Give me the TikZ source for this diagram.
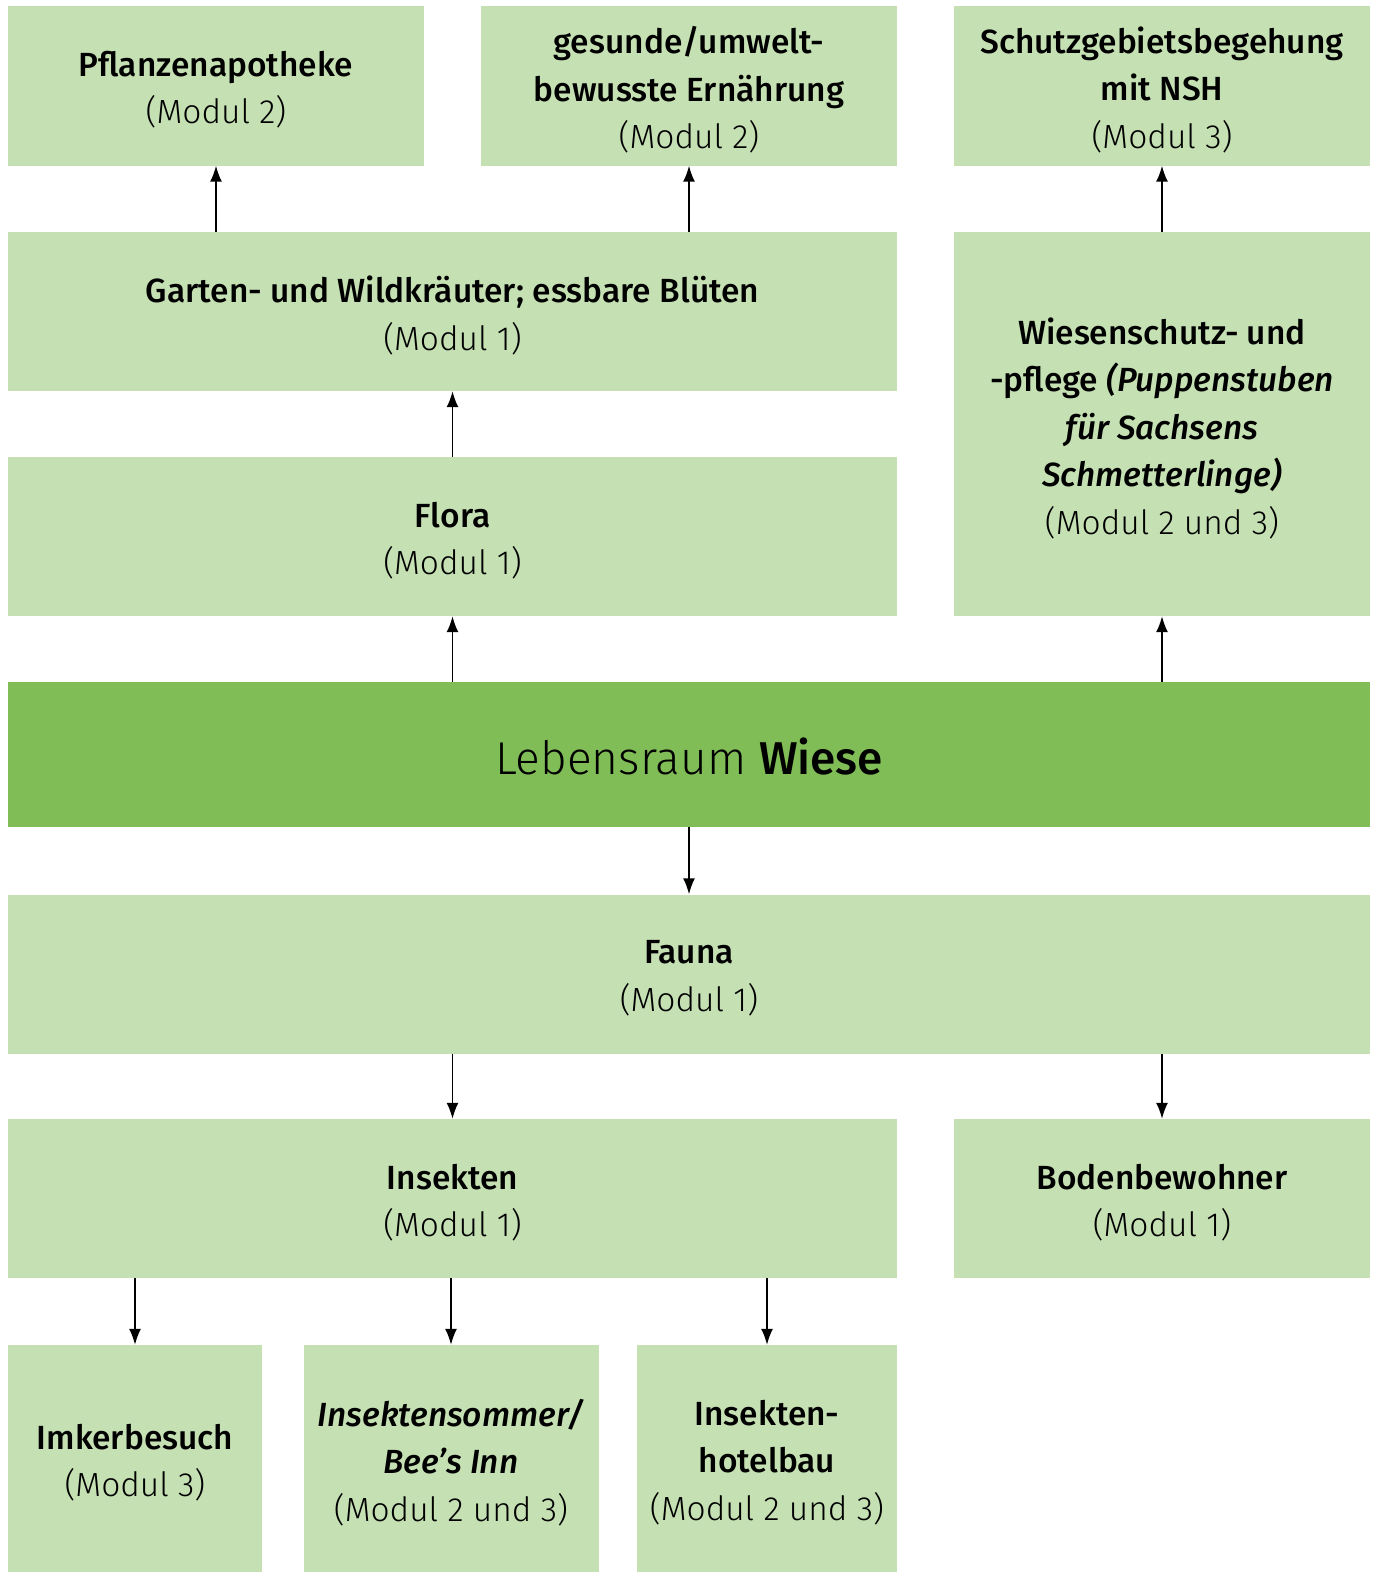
\documentclass[tikz,border=0pt]{standalone}
\usepackage{fontspec}
\setmainfont{Fira Sans}[UprightFont=* Light, BoldFont=* Medium, ItalicFont=* Light Italic, BoldItalicFont=* Medium Italic]
\usetikzlibrary{arrows.meta}
\definecolor{lightgreen}{HTML}{C5E0B3}
\definecolor{darkgreen}{HTML}{80BD57}
\tikzset{
  box/.style={fill=lightgreen, draw=none, inner sep=0pt},
  bigbox/.style={fill=darkgreen, draw=none, inner sep=0pt},
  txt/.style={align=center, inner sep=0pt, text=black,
    font=\fontsize{33.5}{47.5}\selectfont},
  bigtxt/.style={align=center, inner sep=0pt, text=black,
    font=\fontsize{46}{60}\selectfont},
  arr/.style={-{Latex[length=16pt,width=12pt]}, line width=1.7pt},
}
\newcommand\greenbox[6][box]{%
  \node[#1, minimum width=#4, minimum height=#5] (#2) at #3 {};
  \node[txt] (#2t) at ([yshift=-4pt]#2.center) {#6};}
\begin{document}
\begin{tikzpicture}[x=1pt,y=-1pt]
\useasboundingbox (0,0) rectangle (1377,1572);
% row 1
\greenbox{A}{(216,85.75)}{416pt}{159.5pt}
  {\textbf{Pflanzenapotheke}\\(Modul 2)}
\greenbox{B}{(689,85.75)}{416pt}{159.5pt}
  {\textbf{gesunde/umwelt-}\\\textbf{bewusste Ernährung}\\(Modul 2)}
\greenbox{C}{(1162,85.75)}{416pt}{159.5pt}
  {\textbf{Schutzgebietsbegehung}\\\textbf{mit NSH}\\(Modul 3)}
% row 2
\greenbox{D}{(452.5,311.5)}{889pt}{159pt}
  {\textbf{Garten- und Wildkräuter; essbare Blüten}\\(Modul 1)}
\greenbox{E}{(1162,424)}{416pt}{384pt}
  {\textbf{Wiesenschutz- und}\\\textbf{-pflege \textit{(Puppenstuben}}\\\textbf{\textit{für Sachsens}}\\\textbf{\textit{Schmetterlinge)}}\\(Modul 2 und 3)}
% row 3
\greenbox{F}{(452.5,536.5)}{889pt}{159pt}
  {\textbf{Flora}\\(Modul 1)}
% central
\node[bigbox, minimum width=1362pt, minimum height=145pt] (G) at (689,754.5) {};
\node[bigtxt] (Gt) at ([yshift=-2pt]G.center) {Lebensraum \textbf{Wiese}};
% fauna
\greenbox{H}{(689,974)}{1362pt}{159pt}
  {\textbf{Fauna}\\(Modul 1)}
% row insects
\greenbox{I}{(452.5,1198.5)}{889pt}{159pt}
  {\textbf{Insekten}\\(Modul 1)}
\greenbox{J}{(1162,1198.5)}{416pt}{159pt}
  {\textbf{Bodenbewohner}\\(Modul 1)}
% bottom row
\greenbox{K}{(135,1458.5)}{254pt}{227pt}
  {\textbf{Imkerbesuch}\\(Modul 3)}
\greenbox{L}{(451,1458.5)}{295pt}{227pt}
  {\textbf{\textit{Insektensommer/}}\\\textbf{\textit{Bee’s Inn}}\\(Modul 2 und 3)}
\greenbox{M}{(767,1458.5)}{260pt}{227pt}
  {\textbf{Insekten-}\\\textbf{hotelbau}\\(Modul 2 und 3)}
% arrows
\draw[arr] (A.south |- D.north) -- (A.south);
\draw[arr] (B.south |- D.north) -- (B.south);
\draw[arr] (F.north) -- (D.south);
\draw[arr] (F.south |- G.north) -- (F.south);
\draw[arr] (E.south |- G.north) -- (E.south);
\draw[arr] (E.north) -- (C.south);
\draw[arr] (G.south) -- (H.north);
\draw[arr] (I.north |- H.south) -- (I.north);
\draw[arr] (J.north |- H.south) -- (J.north);
\draw[arr] (K.north |- I.south) -- (K.north);
\draw[arr] (L.north |- I.south) -- (L.north);
\draw[arr] (M.north |- I.south) -- (M.north);
\end{tikzpicture}
\end{document}
